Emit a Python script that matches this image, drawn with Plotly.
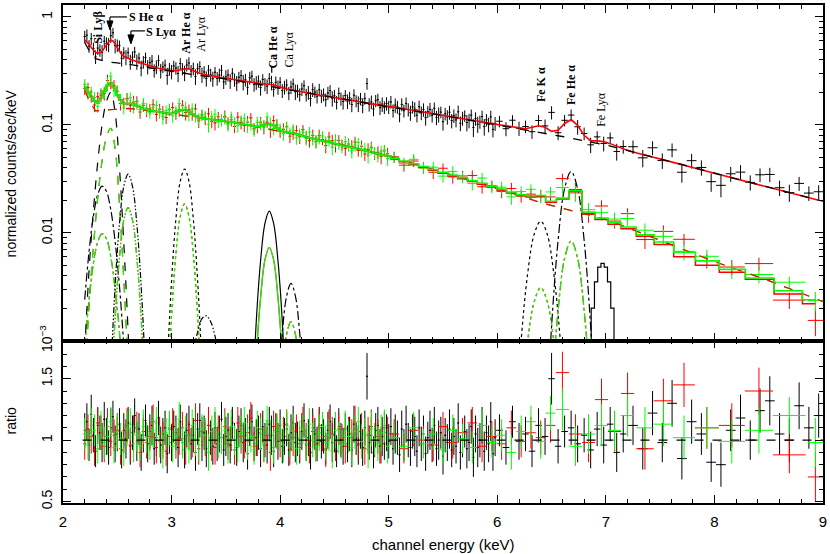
import numpy as np
import plotly.graph_objects as go
from plotly.subplots import make_subplots

# ---------------- black data set (bins, model, ratio) ----------------
k_e = [2.20,2.22,2.24,2.26,2.28,2.30,2.32,2.34,2.36,2.38,
       2.40,2.42,2.44,2.46,2.48,2.50,2.52,2.54,2.56,2.58,
       2.60,2.62,2.64,2.66,2.68,2.70,2.72,2.74,2.76,2.78,
       2.80,2.82,2.84,2.86,2.88,2.90,2.92,2.94,2.96,2.98,
       3.00,3.02,3.04,3.06,3.08,3.10,3.12,3.14,3.16,3.18,
       3.20,3.22,3.24,3.26,3.28,3.30,3.32,3.34,3.36,3.38,
       3.40,3.42,3.44,3.46,3.48,3.50,3.52,3.54,3.56,3.58,
       3.60,3.62,3.64,3.66,3.68,3.70,3.72,3.74,3.76,3.78,
       3.80,3.82,3.84,3.86,3.88,3.90,3.92,3.94,3.96,3.98,
       4.00,4.02,4.04,4.06,4.08,4.10,4.12,4.14,4.16,4.18,
       4.20,4.22,4.24,4.26,4.28,4.30,4.32,4.34,4.36,4.38,
       4.40,4.42,4.44,4.46,4.48,4.50,4.52,4.54,4.56,4.58,
       4.60,4.62,4.64,4.66,4.68,4.70,4.72,4.74,4.76,4.78,
       4.80,4.82,4.84,4.86,4.88,4.90,4.92,4.94,4.96,4.98,
       5.00,5.02,5.04,5.06,5.08,5.10,5.12,5.14,5.16,5.18,
       5.20,5.22,5.24,5.26,5.28,5.30,5.32,5.34,5.36,5.38,
       5.40,5.42,5.44,5.46,5.48,5.50,5.52,5.54,5.56,5.58,
       5.60,5.62,5.64,5.66,5.68,5.70,5.72,5.74,5.76,5.78,
       5.80,5.82,5.84,5.86,5.88,5.90,5.92,5.94,5.96,5.98,
       6.02,6.08,6.14,6.20,6.26,6.32,6.38,6.44,6.50,6.56,
       6.62,6.68,6.74,6.80,6.86,6.92,6.98,7.04,7.10,7.16,
       7.25,7.34,7.43,7.52,7.61,7.70,7.79,7.88,7.97,8.06,
       8.15,8.24,8.33,8.42,8.51,8.60,8.69,8.78,8.87,8.96]
k_hw = [0.01,0.01,0.01,0.01,0.01,0.01,0.01,0.01,0.01,0.01,
        0.01,0.01,0.01,0.01,0.01,0.01,0.01,0.01,0.01,0.01,
        0.01,0.01,0.01,0.01,0.01,0.01,0.01,0.01,0.01,0.01,
        0.01,0.01,0.01,0.01,0.01,0.01,0.01,0.01,0.01,0.01,
        0.01,0.01,0.01,0.01,0.01,0.01,0.01,0.01,0.01,0.01,
        0.01,0.01,0.01,0.01,0.01,0.01,0.01,0.01,0.01,0.01,
        0.01,0.01,0.01,0.01,0.01,0.01,0.01,0.01,0.01,0.01,
        0.01,0.01,0.01,0.01,0.01,0.01,0.01,0.01,0.01,0.01,
        0.01,0.01,0.01,0.01,0.01,0.01,0.01,0.01,0.01,0.01,
        0.01,0.01,0.01,0.01,0.01,0.01,0.01,0.01,0.01,0.01,
        0.01,0.01,0.01,0.01,0.01,0.01,0.01,0.01,0.01,0.01,
        0.01,0.01,0.01,0.01,0.01,0.01,0.01,0.01,0.01,0.01,
        0.01,0.01,0.01,0.01,0.01,0.01,0.01,0.01,0.01,0.01,
        0.01,0.01,0.01,0.01,0.01,0.01,0.01,0.01,0.01,0.01,
        0.01,0.01,0.01,0.01,0.01,0.01,0.01,0.01,0.01,0.01,
        0.01,0.01,0.01,0.01,0.01,0.01,0.01,0.01,0.01,0.01,
        0.01,0.01,0.01,0.01,0.01,0.01,0.01,0.01,0.01,0.01,
        0.01,0.01,0.01,0.01,0.01,0.01,0.01,0.01,0.01,0.01,
        0.01,0.01,0.01,0.01,0.01,0.01,0.01,0.01,0.01,0.01,
        0.03,0.03,0.03,0.03,0.03,0.03,0.03,0.03,0.03,0.03,
        0.03,0.03,0.03,0.03,0.03,0.03,0.03,0.03,0.03,0.03,
        0.045,0.045,0.045,0.045,0.045,0.045,0.045,0.045,0.045,0.045,
        0.045,0.045,0.045,0.045,0.045,0.045,0.045,0.045,0.045,0.045]
k_model = [0.61,0.59,0.56,0.52,0.49,0.47,0.46,0.465,0.48,0.51,
           0.55,0.59,0.61,0.60,0.56,0.52,0.48,0.45,0.43,0.42,
           0.41,0.405,0.40,0.395,0.39,0.382,0.375,0.368,0.362,0.357,
           0.352,0.347,0.343,0.339,0.335,0.331,0.328,0.325,0.322,0.320,
           0.318,0.317,0.317,0.319,0.322,0.327,0.330,0.332,0.331,0.326,
           0.320,0.312,0.305,0.299,0.295,0.292,0.290,0.287,0.285,0.282,
           0.280,0.278,0.276,0.274,0.272,0.270,0.268,0.266,0.264,0.262,
           0.260,0.258,0.256,0.254,0.252,0.250,0.248,0.246,0.244,0.242,
           0.240,0.239,0.238,0.238,0.238,0.238,0.237,0.234,0.230,0.226,
           0.222,0.219,0.217,0.215,0.214,0.212,0.210,0.207,0.205,0.203,
           0.201,0.199,0.198,0.196,0.195,0.193,0.192,0.190,0.189,0.187,
           0.186,0.184,0.183,0.181,0.180,0.179,0.178,0.176,0.175,0.173,
           0.172,0.171,0.170,0.168,0.167,0.165,0.164,0.163,0.162,0.160,
           0.159,0.158,0.157,0.156,0.155,0.153,0.152,0.151,0.150,0.149,
           0.148,0.147,0.146,0.145,0.144,0.143,0.142,0.141,0.140,0.139,
           0.138,0.137,0.136,0.135,0.134,0.133,0.132,0.131,0.130,0.129,
           0.128,0.127,0.126,0.125,0.124,0.123,0.122,0.121,0.120,0.119,
           0.118,0.117,0.116,0.115,0.114,0.1135,0.113,0.112,0.111,0.110,
           0.109,0.108,0.107,0.1065,0.106,0.105,0.104,0.103,0.102,0.101,
           0.100,0.098,0.096,0.094,0.092,0.095,0.098,0.095,0.087,0.089,
           0.103,0.112,0.099,0.080,0.071,0.071,0.070,0.067,0.063,0.060,
           0.0560,0.0532,0.0503,0.0476,0.0451,0.0428,0.0405,0.0384,0.0363,0.0344,
           0.0326,0.0309,0.0293,0.0278,0.0263,0.0249,0.0236,0.0224,0.0212,0.0200]
k_ratio = [1.08,1.15,0.96,1.21,1.04,0.91,1.12,1.06,0.98,1.17,
           1.03,0.94,1.10,1.19,0.97,1.05,1.13,0.92,1.08,1.01,
           1.14,0.95,1.06,1.20,0.99,1.09,0.90,1.04,1.16,0.97,
           1.07,1.12,0.93,1.02,1.18,0.96,1.05,1.10,0.89,1.03,
           0.98,1.11,1.06,0.94,1.15,1.01,0.92,1.08,1.13,0.97,
           1.04,0.90,1.09,1.16,0.99,1.06,0.93,1.12,1.02,0.95,
           1.10,0.97,1.05,1.17,0.92,1.03,1.08,0.96,1.14,1.00,
           0.94,1.07,1.12,0.98,1.04,0.89,1.10,1.15,0.97,1.02,
           1.06,0.93,1.11,1.00,0.96,1.13,1.04,0.91,1.08,0.99,
           1.12,0.95,1.03,1.09,0.92,1.06,1.14,0.98,1.01,0.94,
           1.07,1.16,0.96,1.02,0.90,1.10,1.05,0.97,1.12,0.99,
           1.03,0.93,1.08,1.15,0.98,1.04,0.91,1.11,1.00,0.95,
           1.09,0.97,1.05,0.92,1.13,1.01,0.96,1.07,0.94,1.10,
           1.52,0.98,1.04,0.90,1.08,1.12,0.95,1.03,0.97,1.06,
           0.99,1.11,0.93,1.05,1.02,0.88,1.09,0.96,1.13,1.00,
           0.94,1.07,1.03,0.91,1.10,0.97,1.05,0.89,1.02,1.08,
           0.96,1.12,0.93,1.00,1.06,0.87,1.04,0.98,1.09,0.92,
           1.03,0.95,1.14,0.90,1.01,1.07,0.93,0.98,1.11,0.86,
           1.05,0.94,1.00,1.12,0.91,1.06,0.97,1.15,0.89,1.02,
           1.08,0.94,1.15,0.99,1.05,0.91,1.12,1.03,1.50,0.95,
           1.07,1.10,0.97,1.04,0.92,1.09,0.96,1.13,0.90,1.05,
           1.12,0.93,1.22,0.98,1.30,0.85,1.15,1.05,0.82,0.80,
           1.08,1.18,1.00,1.24,1.32,1.05,1.00,1.28,1.10,1.20]
k_err = [0.14,0.15,0.13,0.16,0.14,0.13,0.15,0.14,0.16,0.14,
         0.15,0.14,0.16,0.13,0.15,0.14,0.13,0.15,0.14,0.16,
         0.13,0.15,0.14,0.14,0.16,0.13,0.15,0.14,0.13,0.15,
         0.14,0.16,0.13,0.15,0.14,0.15,0.13,0.14,0.16,0.14,
         0.15,0.13,0.14,0.16,0.14,0.13,0.15,0.14,0.15,0.13,
         0.14,0.15,0.13,0.14,0.16,0.14,0.15,0.13,0.14,0.15,
         0.13,0.14,0.15,0.14,0.13,0.16,0.14,0.15,0.13,0.14,
         0.15,0.13,0.14,0.16,0.14,0.13,0.15,0.14,0.14,0.15,
         0.14,0.15,0.13,0.14,0.15,0.14,0.16,0.13,0.14,0.15,
         0.13,0.14,0.15,0.14,0.13,0.15,0.14,0.16,0.14,0.13,
         0.15,0.14,0.13,0.15,0.14,0.16,0.13,0.14,0.15,0.14,
         0.14,0.13,0.15,0.14,0.16,0.14,0.13,0.15,0.14,0.15,
         0.13,0.15,0.14,0.14,0.15,0.13,0.16,0.14,0.15,0.14,
         0.19,0.14,0.15,0.13,0.14,0.15,0.14,0.16,0.13,0.15,
         0.14,0.15,0.13,0.16,0.14,0.14,0.15,0.13,0.15,0.14,
         0.15,0.14,0.16,0.13,0.15,0.14,0.15,0.14,0.13,0.16,
         0.14,0.15,0.14,0.16,0.13,0.15,0.14,0.15,0.16,0.14,
         0.15,0.14,0.16,0.14,0.15,0.13,0.16,0.15,0.14,0.16,
         0.15,0.16,0.14,0.15,0.16,0.14,0.15,0.16,0.14,0.15,
         0.13,0.14,0.13,0.15,0.14,0.13,0.14,0.15,0.21,0.14,
         0.13,0.14,0.15,0.14,0.15,0.14,0.15,0.14,0.16,0.15,
         0.16,0.17,0.18,0.16,0.19,0.17,0.18,0.17,0.16,0.18,
         0.17,0.19,0.16,0.18,0.20,0.17,0.18,0.19,0.17,0.18]

# ---------------- red / green data sets ----------------
rg_e = [2.20,2.23,2.26,2.29,2.32,2.35,2.38,2.41,2.44,2.47,
        2.50,2.53,2.56,2.59,2.62,2.65,2.68,2.71,2.74,2.77,
        2.80,2.83,2.86,2.89,2.92,2.95,2.98,3.01,3.04,3.07,
        3.10,3.13,3.16,3.19,3.22,3.25,3.28,3.31,3.34,3.37,
        3.40,3.43,3.46,3.49,3.52,3.55,3.58,3.61,3.64,3.67,
        3.70,3.73,3.76,3.79,3.82,3.85,3.88,3.91,3.94,3.97,
        4.00,4.03,4.06,4.09,4.12,4.15,4.18,4.21,4.24,4.27,
        4.30,4.33,4.36,4.39,4.42,4.45,4.48,4.51,4.54,4.57,
        4.60,4.63,4.66,4.69,4.72,4.75,4.78,4.81,4.84,4.87,
        4.90,4.93,4.96,4.99,
        5.05,5.14,5.23,5.32,5.41,5.50,5.59,5.68,5.77,5.86,
        5.95,6.04,6.13,6.22,6.31,6.40,6.49,
        6.60,6.72,6.84,6.96,7.08,7.20,
        7.36,7.53,7.72,7.93,8.16,8.41,8.69,8.93]
rg_hw = [0.015,0.015,0.015,0.015,0.015,0.015,0.015,0.015,0.015,0.015,
         0.015,0.015,0.015,0.015,0.015,0.015,0.015,0.015,0.015,0.015,
         0.015,0.015,0.015,0.015,0.015,0.015,0.015,0.015,0.015,0.015,
         0.015,0.015,0.015,0.015,0.015,0.015,0.015,0.015,0.015,0.015,
         0.015,0.015,0.015,0.015,0.015,0.015,0.015,0.015,0.015,0.015,
         0.015,0.015,0.015,0.015,0.015,0.015,0.015,0.015,0.015,0.015,
         0.015,0.015,0.015,0.015,0.015,0.015,0.015,0.015,0.015,0.015,
         0.015,0.015,0.015,0.015,0.015,0.015,0.015,0.015,0.015,0.015,
         0.015,0.015,0.015,0.015,0.015,0.015,0.015,0.015,0.015,0.015,
         0.015,0.015,0.015,0.015,
         0.045,0.045,0.045,0.045,0.045,0.045,0.045,0.045,0.045,0.045,
         0.045,0.045,0.045,0.045,0.045,0.045,0.045,
         0.06,0.06,0.06,0.06,0.06,0.06,
         0.08,0.09,0.10,0.11,0.12,0.13,0.15,0.07]
rg_model_low = [0.225,0.203,0.180,0.166,0.160,0.178,0.205,0.232,0.245,0.222,
                0.190,0.170,0.158,0.157,0.158,0.155,0.150,0.146,0.142,0.139,
                0.136,0.1345,0.133,0.1315,0.130,0.1285,0.127,0.128,0.131,0.135,
                0.138,0.137,0.133,0.127,0.121,0.117,0.115,0.114,0.113,0.112,
                0.111,0.110,0.109,0.108,0.107,0.106,0.105,0.1035,0.102,0.101,
                0.100,0.0985,0.097,0.096,0.097,0.0995,0.102,0.101,0.0986,0.093,
                0.088,0.0868,0.0855,0.0845,0.0835,0.0818,0.0800,0.0786,0.0773,0.0760,
                0.0747,0.0734,0.0722,0.0711,0.0700,0.0690,0.0679,0.0668,0.0658,0.0648,
                0.0638,0.0627,0.0617,0.0607,0.0597,0.0587,0.0578,0.0568,0.0559,0.0550,
                0.0541,0.0531,0.0522,0.0514]
g_model_high = [0.0490,0.0463,0.0436,0.0411,0.0386,0.0364,0.0343,0.0323,0.0304,0.0287,
                0.0270,0.0254,0.0239,0.0225,0.0220,0.0221,0.0196,
                0.0210,0.0245,0.0156,0.0137,0.0124,0.0113,
                0.0096,0.0082,0.0066,0.0055,0.0046,0.0038,0.0029,0.0024]
r_model_high = [0.0482,0.0455,0.0428,0.0403,0.0379,0.0357,0.0336,0.0317,0.0298,0.0281,
                0.0265,0.0249,0.0234,0.0221,0.0215,0.0216,0.0192,
                0.0205,0.0240,0.0151,0.0133,0.0120,0.0109,
                0.0093,0.0078,0.0060,0.0050,0.0043,0.0037,0.0027,0.0022]
g_ratio = [1.05,0.96,1.12,1.08,0.93,1.10,0.98,1.03,1.15,0.94,
           1.07,1.01,0.91,1.09,1.13,0.97,1.04,0.95,1.11,1.02,
           0.96,1.08,1.14,0.99,0.92,1.06,1.10,0.95,1.03,1.17,
           0.98,1.05,0.93,1.12,1.01,0.96,1.09,1.04,0.90,1.07,
           1.13,0.97,1.02,1.08,0.94,1.11,1.00,0.95,1.06,1.14,
           0.99,1.03,0.92,1.10,1.05,0.97,1.16,1.01,0.94,1.08,
           1.04,0.96,1.12,0.99,1.07,0.93,1.02,1.09,0.97,1.13,
           1.00,0.95,1.06,1.11,0.98,1.04,0.91,1.08,1.02,0.96,
           1.10,1.03,0.94,1.07,1.15,0.99,1.05,0.92,1.09,1.01,
           0.97,1.06,1.12,0.95,
           1.02,0.95,1.10,0.97,1.05,0.92,1.08,1.01,0.94,1.12,
           0.98,1.04,0.90,1.07,1.15,0.99,1.22,
           1.25,0.95,1.05,1.12,1.08,1.20,
           1.10,1.13,1.02,1.10,0.99,1.08,1.20,0.98]
r_ratio = [0.97,1.09,1.03,0.92,1.14,1.06,0.95,1.11,0.99,1.04,
           1.08,0.93,1.01,1.12,0.96,1.05,1.10,0.90,1.07,0.98,
           1.03,1.15,0.94,1.06,1.00,0.91,1.09,1.13,0.97,1.02,
           1.10,0.95,1.04,0.99,1.16,0.93,1.07,1.01,1.12,0.96,
           0.94,1.08,1.02,1.11,0.97,1.05,0.92,1.14,1.03,0.98,
           1.06,1.18,0.95,1.01,1.09,0.96,1.04,0.90,1.11,1.07,
           0.99,1.05,1.13,0.93,1.02,1.08,0.97,1.15,1.00,0.94,
           1.07,0.96,1.10,1.03,0.92,1.12,1.05,0.98,1.09,1.01,
           0.95,1.06,1.02,1.14,0.97,1.08,0.93,1.04,1.11,0.99,
           1.03,0.96,1.10,1.05,
           1.05,0.93,1.08,1.00,0.96,1.11,0.98,1.06,1.14,0.95,
           1.03,0.97,1.10,0.99,1.06,1.02,1.12,
           1.55,1.05,0.98,1.33,1.07,1.38,
           0.93,1.32,1.45,1.10,1.12,1.40,0.88,0.70]
rg_err = [0.13,0.12,0.14,0.13,0.12,0.14,0.13,0.15,0.12,0.13,
          0.14,0.13,0.12,0.14,0.13,0.15,0.13,0.12,0.14,0.13,
          0.12,0.14,0.13,0.13,0.15,0.12,0.14,0.13,0.12,0.14,
          0.13,0.15,0.12,0.13,0.14,0.13,0.12,0.14,0.15,0.13,
          0.14,0.12,0.13,0.15,0.13,0.14,0.12,0.13,0.14,0.13,
          0.15,0.13,0.12,0.14,0.13,0.14,0.12,0.15,0.13,0.14,
          0.13,0.14,0.12,0.13,0.15,0.13,0.14,0.12,0.14,0.13,
          0.14,0.13,0.15,0.12,0.14,0.13,0.14,0.15,0.13,0.12,
          0.14,0.13,0.15,0.14,0.12,0.14,0.13,0.15,0.14,0.13,
          0.14,0.15,0.13,0.14,
          0.12,0.12,0.13,0.12,0.13,0.12,0.13,0.12,0.13,0.13,
          0.12,0.13,0.14,0.13,0.13,0.14,0.14,
          0.17,0.16,0.16,0.17,0.16,0.17,
          0.17,0.18,0.18,0.17,0.18,0.19,0.15,0.20]

# ---------------- continua ----------------
k_cont_e = [2.20,2.25,2.30,2.40,2.50,2.60,2.80,3.00,3.20,3.40,3.60,3.80,4.00,
            4.50,5.00,5.50,6.00,6.20,6.40,6.60,6.80,7.00,7.50,8.00,8.50,9.00]
k_cont = [0.58,0.47,0.41,0.385,0.375,0.365,0.338,0.312,0.292,0.276,0.258,0.238,0.218,
          0.178,0.147,0.122,0.100,0.092,0.085,0.078,0.071,0.065,0.0482,0.0357,0.0265,0.0196]
rg_cont_e = [2.20,2.25,2.30,2.40,2.50,2.60,2.80,3.00,3.20,3.40,3.60,3.80,4.00,
             4.50,5.00,5.50,6.00,6.20,6.40,6.60,6.80,7.00,7.50,8.00,8.50,9.00]
rg_cont = [0.21,0.16,0.135,0.138,0.140,0.142,0.135,0.126,0.118,0.112,0.104,0.095,0.087,
           0.068,0.051,0.0364,0.0258,0.0222,0.0190,0.0168,0.0150,0.0133,0.0085,0.0054,0.0036,0.0023]

# ---------------- line components ----------------
si_lyb_e = [2.20,2.24,2.28,2.32,2.36,2.40,2.44,2.48,2.52,2.56,2.60]
si_lyb_k = [0.0024,0.0067,0.0142,0.0226,0.027,0.0242,0.0164,0.0083,0.0032,0.0009,0.0002]
si_lyb_rg = [0.00087,0.0024,0.0052,0.0082,0.0098,0.0088,0.0060,0.0030,0.0012,0.0003,0.0001]
s_hea_e = [2.20,2.24,2.28,2.32,2.36,2.40,2.44,2.48,2.52,2.56,2.60,2.64]
s_hea_k = [0.0008,0.0045,0.016,0.045,0.10,0.165,0.20,0.13,0.04,0.008,0.0012,0.0001]
s_hea_rg = [0.0004,0.0021,0.0074,0.021,0.0465,0.077,0.093,0.060,0.0186,0.0037,0.0006,0.0001]
s_lya_e = [2.44,2.48,2.52,2.56,2.60,2.64,2.68,2.72,2.76]
s_lya_k = [0.0005,0.0032,0.0121,0.0269,0.035,0.0269,0.0121,0.0032,0.0005]
s_lya_rg = [0.00025,0.0016,0.0059,0.0131,0.0171,0.0131,0.0059,0.0016,0.00025]
ar_hea_e = [2.96,3.00,3.04,3.08,3.12,3.16,3.20,3.24,3.28]
ar_hea_k = [0.00057,0.0036,0.0135,0.030,0.039,0.030,0.0135,0.0036,0.00057]
ar_hea_rg = [0.0003,0.0017,0.0064,0.0142,0.0185,0.0142,0.0064,0.0017,0.0003]
ar_lya_e = [3.20,3.24,3.28,3.32,3.36,3.40,3.44]
ar_lya_k = [0.0008,0.0012,0.0016,0.0017,0.0015,0.0011,0.0007]
ca_hea_e = [3.74,3.78,3.82,3.86,3.90,3.94,3.98,4.02,4.06]
ca_hea_k = [0.0002,0.0015,0.0055,0.0122,0.0159,0.0122,0.0055,0.0015,0.0002]
ca_hea_rg = [0.0001,0.0007,0.0025,0.0056,0.0073,0.0056,0.0025,0.0007,0.0001]
ca_lya_e = [3.98,4.02,4.06,4.10,4.14,4.18,4.22]
ca_lya_k = [0.0003,0.00118,0.0026,0.0034,0.0026,0.00118,0.0003]
ca_lya_rg = [0.00013,0.0005,0.00115,0.0015,0.00115,0.0005,0.00013]
fe_ka_e = [6.16,6.22,6.28,6.34,6.40,6.46,6.52,6.58,6.64]
fe_ka_k = [0.00014,0.00102,0.0042,0.0097,0.0128,0.0097,0.0042,0.00102,0.00014]
fe_ka_rg = [0.00003,0.00025,0.0010,0.0023,0.0031,0.0023,0.0010,0.00025,0.00003]
fe_hea_e = [6.44,6.50,6.56,6.62,6.68,6.74,6.80,6.86,6.92]
fe_hea_k = [0.0001,0.00135,0.0085,0.0256,0.037,0.0256,0.0085,0.00135,0.0001]
fe_hea_rg = [0.00002,0.0003,0.0019,0.0058,0.0084,0.0058,0.0019,0.0003,0.00002]
fe_lya_e = [6.82,6.85,6.88,6.91,6.94,6.97,7.00,7.03,7.06,7.09,7.12]
fe_lya_k = [0.0004,0.001,0.002,0.0035,0.0048,0.0052,0.0048,0.0035,0.002,0.001,0.0004]

# ---------------- labels ----------------
y_tick_vals = [0.001, 0.01, 0.1, 1]
y_tick_text = ["10<sup>\u22123</sup>", "0.01", "0.1", "1"]
r_tick_vals = [0.5, 1, 1.5]
r_tick_text = ["0.5", "1", "1.5"]

g_model = rg_model_low + g_model_high
r_model = rg_model_low + r_model_high

BLACK, RED, GREEN = "#000000", "#ff0000", "#00ff00"
DASHDOTDOT = "6px,2px,1.5px,2px,1.5px,2px"

fig = make_subplots(rows=2, cols=1, shared_xaxes=True, vertical_spacing=0)


def add_set(e, hw, m, r, err, color):
    m = np.array(m); r = np.array(r); err = np.array(err)
    fig.add_trace(go.Scatter(
        x=e, y=m * r, mode="markers", marker=dict(size=1, color=color),
        error_y=dict(type="data", array=m * err, color=color, thickness=1, width=0),
        error_x=dict(type="data", array=hw, color=color, thickness=1, width=0),
        hoverinfo="skip"), row=1, col=1)
    fig.add_trace(go.Scatter(
        x=e, y=r, mode="markers", marker=dict(size=1, color=color),
        error_y=dict(type="data", array=err, color=color, thickness=1, width=0),
        error_x=dict(type="data", array=hw, color=color, thickness=1, width=0),
        hoverinfo="skip"), row=2, col=1)


def add_line(x, y, color, dash="solid", width=1.2, shape="spline"):
    fig.add_trace(go.Scatter(x=x, y=y, mode="lines",
                             line=dict(color=color, dash=dash, width=width, shape=shape),
                             hoverinfo="skip"), row=1, col=1)


comps = [
    (si_lyb_e, si_lyb_k, si_lyb_rg, "dashdot"),
    (s_hea_e, s_hea_k, s_hea_rg, "dash"),
    (s_lya_e, s_lya_k, s_lya_rg, DASHDOTDOT),
    (ar_hea_e, ar_hea_k, ar_hea_rg, "dot"),
    (ca_hea_e, ca_hea_k, ca_hea_rg, "solid"),
    (ca_lya_e, ca_lya_k, ca_lya_rg, "dashdot"),
    (fe_ka_e, fe_ka_k, fe_ka_rg, "dot"),
    (fe_hea_e, fe_hea_k, fe_hea_rg, "dashdot"),
]
for ce, ck, crg, dsh in comps:
    add_line(ce, ck, BLACK, dsh)
    add_line(ce, crg, RED, dsh)
    add_line(ce, crg, GREEN, dsh)
add_line(ar_lya_e, ar_lya_k, BLACK, DASHDOTDOT)
add_line(fe_lya_e, fe_lya_k, BLACK, "solid", shape="hvh")

add_set(k_e, k_hw, k_model, k_ratio, k_err, BLACK)
add_set(rg_e, rg_hw, r_model, r_ratio, rg_err, RED)
add_set(rg_e, rg_hw, g_model, g_ratio, rg_err, GREEN)

add_line(rg_cont_e, rg_cont, GREEN, "dash", 1.2, "linear")
add_line(rg_cont_e, rg_cont, RED, "dash", 1.2, "linear")
add_line(rg_e, r_model, RED, "solid", 1.5, "hvh")
add_line(rg_e, g_model, GREEN, "solid", 1.5, "hvh")
add_line(k_e, k_model, RED, "solid", 1.6, "linear")
add_line(k_cont_e, k_cont, BLACK, "dash", 1.3, "linear")

# ---------------- layout ----------------
L, R, T, B = 63, 824, 3, 503
W, H = 830, 554
split = 340


def px(x):
    return (x - L) / (R - L)


def py(y):
    return (B - y) / (B - T)


axis_common = dict(showline=True, linecolor="black", linewidth=1.5, mirror="ticks",
                   ticks="inside", tickcolor="black", tickwidth=1.2, showgrid=False,
                   zeroline=False, tickfont=dict(family="Liberation Sans", size=14, color="black"))

fig.update_xaxes(**axis_common, range=[2, 9], dtick=1, tick0=0, ticklen=8,
                 minor=dict(dtick=0.2, tick0=0, ticks="inside", ticklen=4,
                            tickcolor="black", tickwidth=1, showgrid=False))
fig.update_xaxes(showticklabels=False, row=1, col=1)
fig.update_xaxes(showticklabels=True, ticklabelstandoff=4,
                 tickfont=dict(family="Liberation Sans", size=15, color="black"), row=2, col=1)

minor_log = [m * 10.0 ** d for d in (-3, -2, -1, 0) for m in range(2, 10)]
fig.update_yaxes(**axis_common, type="log", range=[-3, 0.111], tickmode="array",
                 tickvals=y_tick_vals, ticktext=y_tick_text, tickangle=-90, ticklen=8,
                 ticklabelstandoff=4,
                 minor=dict(tickmode="array", tickvals=minor_log, ticks="inside", ticklen=4,
                            tickcolor="black", tickwidth=1, showgrid=False),
                 domain=[py(split), 1], row=1, col=1)
fig.update_yaxes(**axis_common, range=[0.488, 1.81], tickmode="array",
                 tickvals=r_tick_vals, ticktext=r_tick_text, tickangle=-90, ticklen=8,
                 ticklabelstandoff=4,
                 minor=dict(dtick=0.1, tick0=0, ticks="inside", ticklen=4,
                            tickcolor="black", tickwidth=1, showgrid=False),
                 domain=[0, py(split)], row=2, col=1)

serif = "Liberation Serif"
ann = []


def label(text, x, y, angle=-90, bold=False, size=12):
    ann.append(dict(text=("<b>%s</b>" % text) if bold else text, x=px(x), y=py(y),
                    xref="paper", yref="paper", showarrow=False, textangle=angle,
                    xanchor="center", yanchor="middle",
                    font=dict(family=serif, size=size, color="black")))


label("Si Ly\u03b2", 98, 25, bold=True)
label("S He \u03b1", 146, 15, angle=0, bold=True)
label("S Ly\u03b1", 161, 30, angle=0, bold=True)
label("Ar He \u03b1", 186, 31, bold=True)
label("Ar Ly\u03b1", 201, 32)
label("Ca He \u03b1", 273, 46, bold=True)
label("Ca Ly\u03b1", 289, 48)
label("Fe K \u03b1", 541, 83, bold=True)
label("Fe He \u03b1", 571, 83, bold=True)
label("Fe Ly\u03b1", 601, 108)

sans = "Liberation Sans"
ann.append(dict(text="normalized counts/sec/keV", x=px(11), y=py(172), xref="paper", yref="paper",
                showarrow=False, textangle=-90, xanchor="center", yanchor="middle",
                font=dict(family=sans, size=14, color="black")))
ann.append(dict(text="ratio", x=px(11), y=py(421), xref="paper", yref="paper",
                showarrow=False, textangle=-90, xanchor="center", yanchor="middle",
                font=dict(family=sans, size=14, color="black")))
ann.append(dict(text="channel energy (keV)", x=px(444), y=py(545), xref="paper", yref="paper",
                showarrow=False, xanchor="center", yanchor="middle",
                font=dict(family=sans, size=15, color="black")))

shapes = []


def seg(x0, y0, x1, y1):
    shapes.append(dict(type="line", xref="paper", yref="paper", x0=px(x0), y0=py(y0),
                       x1=px(x1), y1=py(y1), line=dict(color="black", width=1.2)))


def tri(xc, ytop, ybot, half):
    path = "M %f,%f L %f,%f L %f,%f Z" % (px(xc - half), py(ytop), px(xc + half), py(ytop),
                                          px(xc), py(ybot))
    shapes.append(dict(type="path", xref="paper", yref="paper", path=path,
                       fillcolor="black", line=dict(color="black", width=1)))


seg(110, 15, 127, 15)
seg(110, 15, 110, 19)
tri(110, 19, 28, 3)
seg(131, 29, 145, 29)
seg(131, 29, 131, 33)
tri(131, 33, 42, 3)
seg(272, 65, 272, 71)
shapes.append(dict(type="line", xref="x2", yref="y2", x0=2.18, x1=9, y0=1, y1=1,
                   line=dict(color="black", width=1.2, dash="dash")))

fig.update_layout(width=W, height=H, margin=dict(l=L, r=W - R, t=T, b=H - B),
                  paper_bgcolor="white", plot_bgcolor="white", showlegend=False,
                  annotations=ann, shapes=shapes)

fig.write_html("out.html", config={"displayModeBar": False},
               post_script="document.body.style.margin='0px';")
